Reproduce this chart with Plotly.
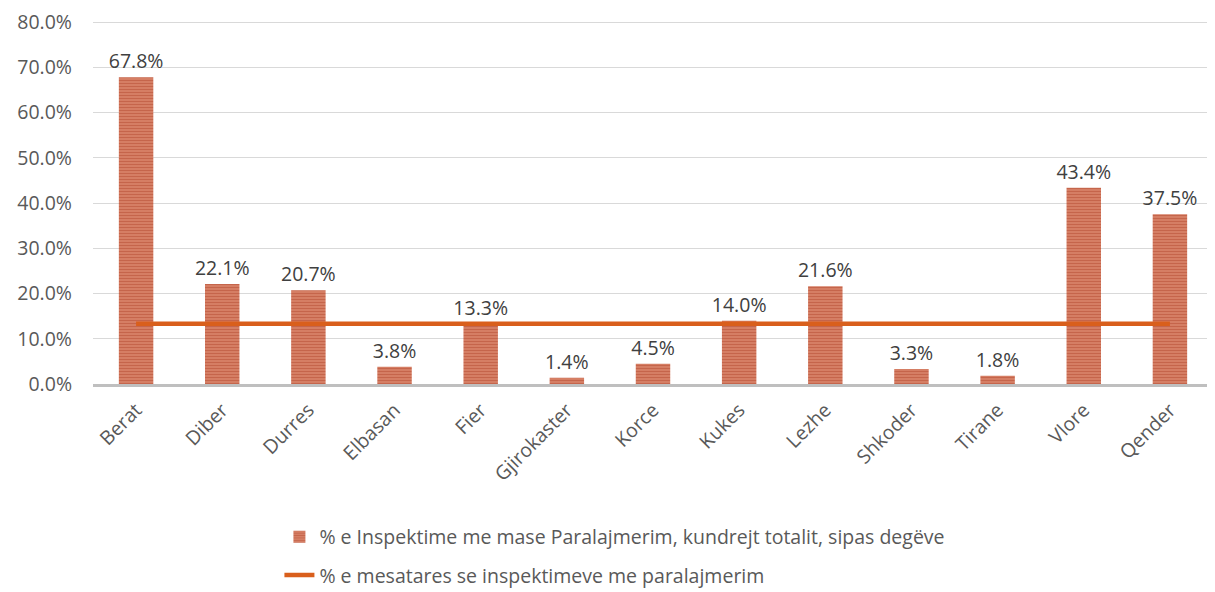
import plotly.graph_objects as go

categories = ["Berat", "Diber", "Durres", "Elbasan", "Fier", "Gjirokaster", "Korce",
              "Kukes", "Lezhe", "Shkoder", "Tirane", "Vlore", "Qender"]
pct_warning = [67.8, 22.1, 20.7, 3.8, 13.3, 1.4, 4.5, 14.0, 21.6, 3.3, 1.8, 43.4, 37.5]
avg_warning = [13.3] * 13
name_bar = "% e Inspektime me mase Paralajmerim, kundrejt totalit, sipas degëve"
name_line = "% e mesatares se inspektimeve me paralajmerim"
y_ticks = [0, 10, 20, 30, 40, 50, 60, 70, 80]

FONT = "Open Sans, Liberation Sans, sans-serif"
FS = 19.5

fig = go.Figure()
fig.add_trace(go.Bar(
    x=categories, y=pct_warning, name=name_bar, legendgroup="a",
    marker=dict(color="#ee9f84",
                line=dict(width=0),
                pattern=dict(shape="-", fgcolor="#9a2108", bgcolor="#f0a88e",
                             size=3, solidity=0.75, fillmode="overlay")),
    width=0.4,
    text=[f"{v:.1f}%" for v in pct_warning], textposition="outside",
    constraintext="none",
    textfont=dict(size=FS, color="#404040", family=FONT),
    cliponaxis=False,
))
fig.add_trace(go.Scatter(
    x=categories, y=avg_warning, name=name_line, mode="lines", legendgroup="b",
    line=dict(color="#d95f1c", width=4.5),
))

fig.update_layout(
    width=1215, height=592,
    margin=dict(l=85, r=10, t=5, b=216, autoexpand=False),
    plot_bgcolor="white", paper_bgcolor="white",
    font=dict(family=FONT, size=FS, color="#595959"),
    showlegend=True,
    legend=dict(orientation="v", x=0.466, xanchor="center",
                y=-0.36, yanchor="top",
                font=dict(size=FS, color="#595959"), tracegroupgap=10),
    bargap=0.6,
)
fig.update_yaxes(range=[0, 82], tickvals=y_ticks,
                 ticktext=[f"{v:.1f}%" for v in y_ticks],
                 showgrid=True, gridcolor="#d9d9d9", gridwidth=1,
                 zeroline=False, showline=False, ticks="", ticklen=0,
                 ticklabelstandoff=20, automargin=False,
                 ticklabeloverflow="allow",
                 tickfont=dict(size=FS, color="#595959"))
fig.update_xaxes(tickangle=-45, showline=True, linecolor="#bfbfbf", linewidth=3,
                 ticks="", automargin=False, ticklabelstandoff=4,
                 ticklabeloverflow="allow",
                 tickfont=dict(size=FS, color="#595959"))

fig.write_html("out.html")
